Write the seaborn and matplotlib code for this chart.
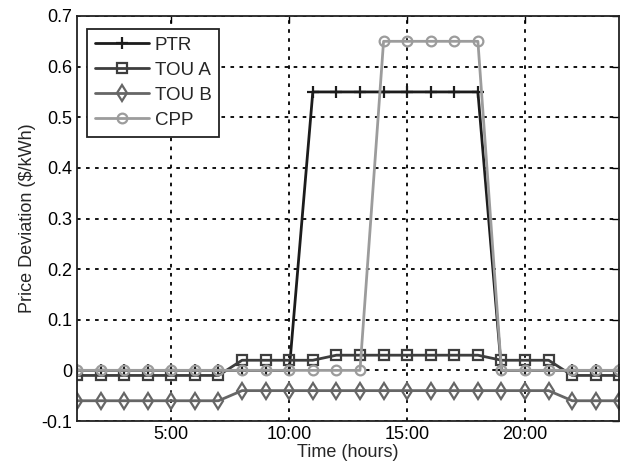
import numpy as np
import pandas as pd
import matplotlib
matplotlib.use("Agg")
import matplotlib.pyplot as plt
import seaborn as sns

hours = list(range(1, 25))
ptr = [0]*10 + [0.55]*8 + [0]*6
tou_a = [-0.01]*7 + [0.02]*4 + [0.03]*7 + [0.02]*3 + [-0.01]*3
tou_b = [-0.06]*7 + [-0.04]*14 + [-0.06]*3
cpp = [0]*13 + [0.65]*5 + [0]*6

series_names = ["PTR", "TOU A", "TOU B", "CPP"]
series_values = [ptr, tou_a, tou_b, cpp]
x_ticks = [5, 10, 15, 20]
x_ticklabels = ["5:00", "10:00", "15:00", "20:00"]
y_ticks = [-0.1, 0, 0.1, 0.2, 0.3, 0.4, 0.5, 0.6, 0.7]
y_ticklabels = ["-0.1", "0", "0.1", "0.2", "0.3", "0.4", "0.5", "0.6", "0.7"]

sns.set_style("white")
plt.rcParams['font.family'] = ['Liberation Sans', 'DejaVu Sans']

colors = ["#1c1c1c", "#3e3e3e", "#666666", "#9c9c9c"]
markers = ["+", "s", "d", "o"]
msizes = [9, 7.5, 8, 7]

fig = plt.figure(figsize=(6.2, 4.71), dpi=100)
ax = fig.add_axes([77/620, 50/471, 1 - 77/620 - 0.001, (421-16)/471])

for name, vals, c, m, ms in zip(series_names, series_values, colors, markers, msizes):
    df = pd.DataFrame({"hour": hours, "value": vals})
    sns.lineplot(data=df, x="hour", y="value", ax=ax, color=c, linewidth=2,
                 marker=m, markersize=ms, markerfacecolor="none",
                 markeredgecolor=c, markeredgewidth=1.6, label=name)

ax.set_xlim(1, 24)
ax.set_ylim(-0.1, 0.7)
ax.set_xticks(x_ticks)
ax.set_xticklabels(x_ticklabels)
ax.set_yticks(y_ticks)
ax.set_yticklabels(y_ticklabels)
ax.grid(True, color="black", linestyle=(0, (2, 3)), linewidth=1.3)
ax.set_axisbelow(True)
ax.tick_params(direction="in", length=5, width=1, labelsize=13, colors="black",
               top=True, right=True)
for s in ax.spines.values():
    s.set_color("#222222")
    s.set_linewidth(1.3)
ax.set_xlabel("Time (hours)", fontsize=13, labelpad=1)
ax.set_ylabel("Price Deviation ($/kWh)", fontsize=13, labelpad=4)

leg = ax.legend(loc="upper left", bbox_to_anchor=(0.002, 0.99), fontsize=13.5,
                frameon=True, fancybox=False, framealpha=1, edgecolor="#222222",
                handlelength=2.9, handletextpad=0.3, borderpad=0.4, labelspacing=0.42)
leg.get_frame().set_linewidth(1.3)

fig.savefig("out.png", dpi=100)
